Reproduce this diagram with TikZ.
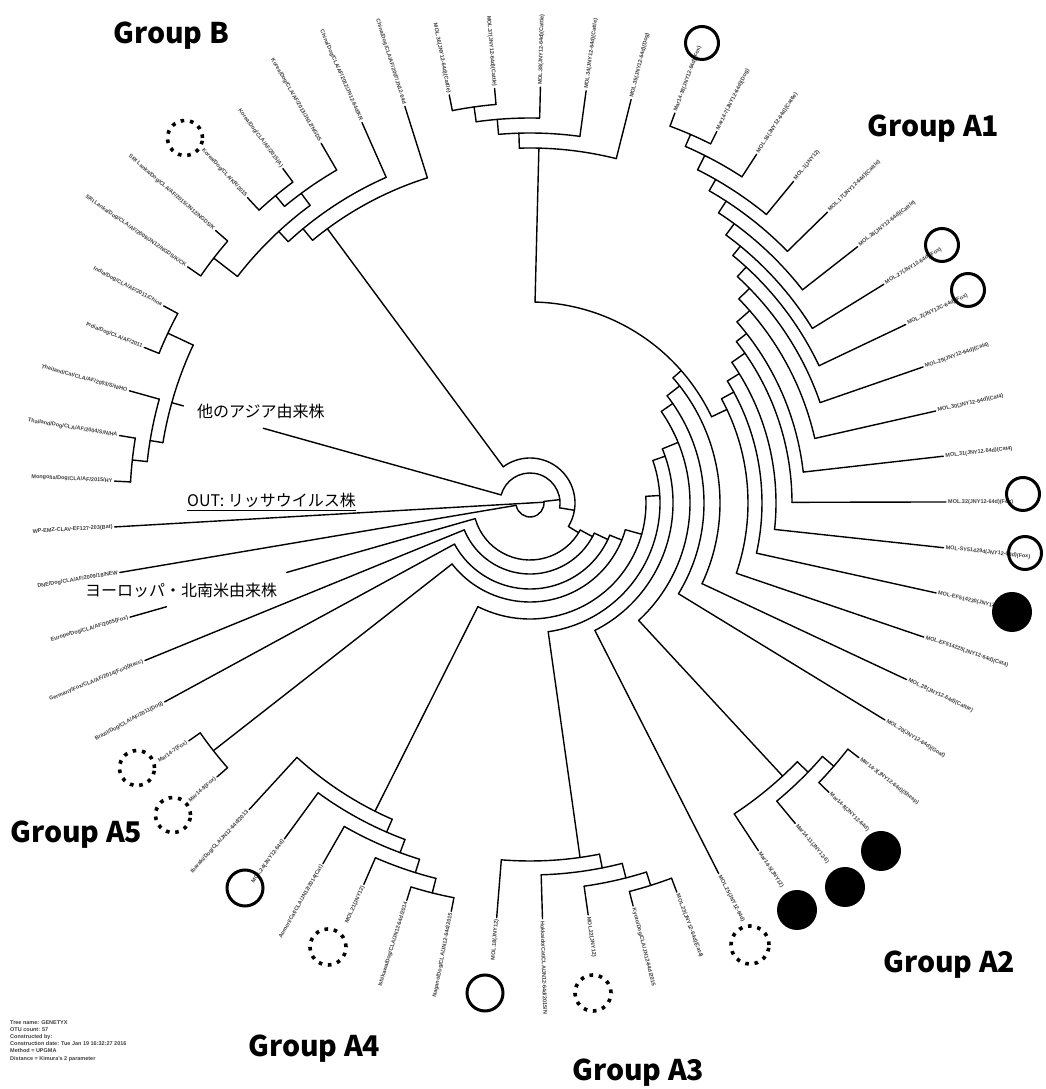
\documentclass[tikz,border=0pt]{standalone}
\usepackage{fontspec}
\setmainfont{Liberation Sans}
\newfontfamily\jpf{Noto Sans CJK JP}
\newcommand\tRad[3]{\pgfmathsetmacro\tAng{183.3+6.315789*(#1)}\draw[br] (\tAng:#2) -- (\tAng:#3);}
\newcommand\tArc[3]{\pgfmathsetmacro\tAa{183.3+6.315789*(#2)}\pgfmathsetmacro\tAb{183.3+6.315789*(#3)}\draw[br] (\tAa:#1) arc[start angle=\tAa, end angle=\tAb, radius=#1pt];}
\newcommand\tLabR[2]{\pgfmathsetmacro\tAng{183.3+6.315789*(#1)}\node[lab,anchor=west,rotate=\tAng] (lb#1) at (\tAng:418) {#2};}
\newcommand\tLabL[2]{\pgfmathsetmacro\tAng{183.3+6.315789*(#1)}\pgfmathsetmacro\tAngB{\tAng-180}\node[lab,anchor=east,rotate=\tAngB] (lb#1) at (\tAng:418) {#2};}
\begin{document}
\begin{tikzpicture}[x=1pt,y=1pt,
  br/.style={line width=1.4pt, line cap=round, line join=round},
  lab/.style={font=\bfseries\fontsize{5.5}{6}\selectfont, text=black!75, inner sep=0pt},
  grp/.style={font=\jpf\bfseries\fontsize{28.5}{30}\selectfont, inner sep=0pt, anchor=base west},
  jp/.style={font=\jpf\fontsize{16}{18}\selectfont, inner sep=0pt, anchor=base west},
  ringc/.style={circle, draw, line width=3pt, minimum size=#1, inner sep=0pt},
  dotc/.style={circle, draw, line width=3.6pt, dash pattern=on 3.6pt off 5.8pt, minimum size=#1, inner sep=0pt},
  fillc/.style={circle, fill=black, minimum size=#1, inner sep=0pt}]
\useasboundingbox (0,0) rectangle (1046,1089);
\fill[white] (0,0) rectangle (1046,1089);

\begin{scope}[shift={(530,586)}]
% root and ingroup
\tRad{0}{0}{416}
\tRad{28.5}{0}{14}
\tArc{14}{1}{29}
\tRad{1}{14}{416}
\tRad{29}{14}{30}
\tArc{30}{26.5}{54}
\tRad{26.5}{30}{45}
\tRad{54}{30}{277}
\tRad{54}{360}{372}
\tArc{45}{23}{48}
\tRad{23}{45}{57}
\tRad{48}{45}{341}
% basal ladder
\tArc{57}{2}{23.5}
\tRad{2}{57}{253}
\tRad{2}{378}{416}
\tRad{23.5}{57}{71}
\tArc{71}{3}{24}
\tRad{3}{71}{416}
\tRad{24}{71}{86}
\tArc{86}{4}{24.5}
\tRad{4}{86}{416}
\tRad{24.5}{86}{99}
\tArc{99}{5.5}{25.5}
\tRad{5.5}{99}{402}
\tRad{25.5}{99}{116}
\tArc{116}{9.5}{28.5}
\tRad{9.5}{116}{345}
\tRad{28.5}{116}{130}
\tArc{130}{15}{31}
\tRad{15}{130}{358}
\tRad{31}{130}{143}
\tArc{143}{18}{31.5}
\tRad{18}{143}{416}
\tRad{31.5}{143}{160}
\tArc{160}{20.5}{33.5}
\tRad{20.5}{160}{372}
\tRad{33.5}{160}{174}
\tArc{174}{23}{34}
\tRad{23}{174}{416}
\tRad{34}{174}{190}
\tArc{190}{24}{34.5}
\tRad{24}{190}{416}
\tRad{34.5}{190}{201}
\tArc{201}{32}{42}
\tRad{32}{201}{218}
\tRad{42}{201}{355}
% A1 ladder
\tArc{218}{25}{32.5}
\tRad{25}{218}{416}
\tRad{32.5}{218}{232}
\tArc{232}{26}{33}
\tRad{26}{232}{416}
\tRad{33}{232}{246}
\tArc{246}{27}{33.5}
\tRad{27}{246}{416}
\tRad{33.5}{246}{262}
\tArc{262}{28}{34}
\tRad{28}{262}{416}
\tRad{34}{262}{275}
\tArc{275}{29}{34.5}
\tRad{29}{275}{416}
\tRad{34.5}{275}{292}
\tArc{292}{30}{35}
\tRad{30}{292}{416}
\tRad{35}{292}{307}
\tArc{307}{31}{35.5}
\tRad{31}{307}{416}
\tRad{35.5}{307}{320}
\tArc{320}{32}{36}
\tRad{32}{320}{416}
\tRad{36}{320}{332}
\tArc{332}{33}{36.5}
\tRad{33}{332}{416}
\tRad{36.5}{332}{346}
\tArc{346}{34}{37}
\tRad{34}{346}{416}
\tRad{37}{346}{360}
\tArc{360}{35}{37.5}
\tRad{35}{360}{416}
\tRad{37.5}{360}{373}
\tArc{373}{36}{38}
\tRad{36}{373}{416}
\tRad{38}{373}{389}
\tArc{389}{37}{38.5}
\tRad{37}{389}{416}
\tRad{38.5}{389}{402}
\tArc{402}{38}{39}
\tRad{38}{402}{416}
\tRad{39}{402}{416}
% top cluster
\tArc{355}{40}{42.5}
\tRad{40}{355}{416}
\tRad{42.5}{355}{370}
\tArc{370}{41}{43}
\tRad{41}{370}{416}
\tRad{43}{370}{385}
\tArc{385}{42}{43.5}
\tRad{42}{385}{416}
\tRad{43.5}{385}{400}
\tArc{400}{43}{44}
\tRad{43}{400}{416}
\tRad{44}{400}{416}
% group B
\tArc{341}{45}{48.5}
\tRad{45}{341}{416}
\tRad{48.5}{341}{356}
\tArc{356}{46}{49}
\tRad{46}{356}{416}
\tRad{49}{356}{370}
\tArc{370}{48}{50.5}
\tRad{48}{370}{385}
\tRad{50.5}{370}{400}
\tArc{385}{47}{48.5}
\tRad{47}{385}{416}
\tRad{48.5}{385}{399}
\tArc{399}{48}{49}
\tRad{48}{399}{416}
\tRad{49}{399}{416}
\tArc{400}{50}{51}
\tRad{50}{400}{416}
\tRad{51}{400}{416}
% other Asia
\tArc{372}{52.5}{55}
\tRad{52.5}{372}{400}
\tArc{400}{52}{53}
\tRad{52}{400}{416}
\tRad{53}{400}{416}
\tRad{55}{372}{385}
\tArc{385}{54}{55.5}
\tRad{54}{385}{416}
\tRad{55.5}{385}{400}
\tArc{400}{55}{56}
\tRad{55}{400}{416}
\tRad{56}{400}{416}
% A5
\tArc{402}{5}{6}
\tRad{5}{402}{416}
\tRad{6}{402}{416}
% A4
\tArc{345}{7}{10}
\tRad{7}{345}{416}
\tRad{10}{345}{359}
\tArc{359}{8}{10.5}
\tRad{8}{359}{416}
\tRad{10.5}{359}{373}
\tArc{373}{9}{11}
\tRad{9}{373}{416}
\tRad{11}{373}{387}
\tArc{387}{10}{11.5}
\tRad{10}{387}{416}
\tRad{11.5}{387}{402}
\tArc{402}{11}{12}
\tRad{11}{402}{416}
\tRad{12}{402}{416}
% A3
\tArc{358}{13}{15.5}
\tRad{13}{358}{416}
\tRad{15.5}{358}{372}
\tArc{372}{14}{16}
\tRad{14}{372}{416}
\tRad{16}{372}{387}
\tArc{387}{15}{16.5}
\tRad{15}{387}{416}
\tRad{16.5}{387}{401}
\tArc{401}{16}{17}
\tRad{16}{401}{416}
\tRad{17}{401}{416}
% A2
\tArc{372}{19}{21}
\tRad{19}{372}{416}
\tRad{21}{372}{387}
\tArc{387}{20}{21.5}
\tRad{20}{387}{416}
\tRad{21.5}{387}{402}
\tArc{402}{21}{22}
\tRad{21}{402}{416}
\tRad{22}{402}{416}

% leaf labels
\tLabL{0}{WP-EMZ-CLAV-EF127-203(Bat)}
\tLabL{1}{DNE/Dog/CLA/AF/2009/18/NEW}
\tLabL{2}{Europe/Dog/CLA/AF/2005(Fox)}
\tLabL{3}{Germany/Fox/CLA/AF/2014(Fox)(Racc)}
\tLabL{4}{Brazil/Dog/CLA/AF/2011(Dog)}
\tLabL{5}{Mar14-7(Fox)}
\tLabL{6}{Mar14-9(Fox)}
\tLabL{7}{Ibaraki/Dog/CLA/JN12-64d/2013}
\tLabL{8}{MOL.24(JNY12-64d)}
\tLabL{9}{Aomori/Cat/CLA/JN12/2014(Cat)}
\tLabL{10}{MOL.21(JNY12)}
\tLabL{11}{Ishikawa/Dog/CLA/JN12-64d/2014}
\tLabL{12}{Nagano/Dog/CLA/JN12-64d/2015}
\tLabL{13}{MOL.18(JNY12)}
\tLabR{14}{Hokkaido/Cat/CLA/JN12-64d/2015/N}
\tLabR{15}{MOL.22(JNY12)}
\tLabR{16}{Kyoto/Dog/CLA/JN12-64d/2015}
\tLabR{17}{MOL.23(JNY12-64d)(Cat4)}
\tLabR{18}{MOL.25(JNY12-64d)}
\tLabR{19}{Mar14-5(JNY12)}
\tLabR{20}{Mar14-11(JNY12-6)}
\tLabR{21}{Mar14-8(JNY12-64d)}
\tLabR{22}{Mar14-3(JNY12-64d)(Sheep)}
\tLabR{23}{MOL.20(JNY12-64d)(Goat)}
\tLabR{24}{MOL.28(JNY12-64d)(Cattle)}
\tLabR{25}{MOL-EF514225(JNY12-64d)(Cat4)}
\tLabR{26}{MOL-EF514230(JNY12-64d)(Cat)}
\tLabR{27}{MOL-SY514294(JNY12-64d)(Fox)}
\tLabR{28}{MOL.32(JNY12-64d)(Fox)}
\tLabR{29}{MOL.31(JNY12-64d)(Cat4)}
\tLabR{30}{MOL.30(JNY12-64d)(Cat4)}
\tLabR{31}{MOL.29(JNY12-64d)(Cat4)}
\tLabR{32}{MOL.2(JNY12C-64d)(Fox)}
\tLabR{33}{MOL.27(JNY12-64d)(Fox)}
\tLabR{34}{MOL.26(JNY12-64d)(Cattle)}
\tLabR{35}{MOL.17(JNY12-64d)(Cattle)}
\tLabR{36}{MOL.1(JNY12)}
\tLabR{37}{MOL.16(JNY12-64d)(Cattle)}
\tLabR{38}{Mar14-7(JNY12-64d)(Dog)}
\tLabR{39}{Mar14-18(JNY12-64d)(Fox)}
\tLabR{40}{MOL.35(JNY12-64d)(Dog)}
\tLabR{41}{MOL.34(JNY12-64d)(Cattle)}
\tLabR{42}{MOL.38(JNY12-64d)(Cattle)}
\tLabL{43}{MOL.37(JNY12-64d)(Cattle)}
\tLabL{44}{MOL.36(JNY12-64d)(Cattle)}
\tLabL{45}{China/Dog/CLA/AF/2007/JN12-64d}
\tLabL{46}{China/Dog/CLA/AF/2012/JN12-64d/KR}
\tLabL{47}{Korea/Dog/CLA/AF/2013/JN12/NGDS}
\tLabL{48}{Korea/Dog/CLA/AF/2015(A)}
\tLabL{49}{Korea/Dog/CLA/KR/2015}
\tLabL{50}{SRI Lanka/Dog/CLA/AF/2015/JN12/NGDS/K}
\tLabL{51}{SRI Lanka/Dog/CLA/AF/2009/JN12/NGDS/K/CK}
\tLabL{52}{India/Dog/CLA/AF/2011/China}
\tLabL{53}{India/Dog/CLA/AF/2011}
\tLabL{54}{Thailand/Cat/CLA/AF/2003/S/N/HO}
\tLabL{55}{Thailand/Dog/CLA/AF/2004/S/N/HA}
\tLabL{56}{Mongolia/Dog/CLA/AF/2015/HY}
\end{scope}

% markers
\node[ringc=33pt] (o1) at (702,1046) {};
\node[ringc=33pt] (o2) at (942,844) {};
\node[ringc=33pt] (o3) at (968,799) {};
\node[ringc=33pt] (o4) at (1023,595) {};
\node[ringc=33pt] (o5) at (1025,536) {};
\node[ringc=36pt] (o6) at (245,201) {};
\node[ringc=36pt] (o7) at (485,96) {};
\node[dotc=35pt] (d1) at (185,951) {};
\node[dotc=35pt] (d2) at (137,321) {};
\node[dotc=35pt] (d3) at (173,274) {};
\node[dotc=36pt] (d4) at (328,142) {};
\node[dotc=36pt] (d5) at (593,96) {};
\node[dotc=38pt] (d6) at (750,144) {};
\node[fillc=40pt] (f1) at (1012,477) {};
\node[fillc=40pt] (f2) at (797,179) {};
\node[fillc=40pt] (f3) at (845,202) {};
\node[fillc=40pt] (f4) at (881,238) {};

% group labels
\node[grp] (gB) at (113,1045.7) {Group B};
\node[grp] (gA1) at (867,952.3) {Group A1};
\node[grp] (gA2) at (883,116) {Group A2};
\node[grp] (gA3) at (572,9) {Group A3};
\node[grp] (gA4) at (248,32) {Group A4};
\node[grp] (gA5) at (10,246) {Group A5};

% japanese labels
\node[jp] (jpAsia) at (197,671) {他のアジア由来株};
\node[jp] (jpOut) at (187,582) {OUT: リッサウイルス株};
\draw[line width=1pt] ([yshift=-3.5pt]jpOut.base west) -- ([yshift=-3.5pt]jpOut.base east);
\node[jp] (jpEu) at (85,492) {ヨーロッパ・北南米由来株};

% info block
\node[font=\bfseries\fontsize{5.5}{7.2}\selectfont, text=black!75, anchor=north west, align=left, inner sep=0pt] (info) at (10,69) {Tree name: GENETYX\\OTU count: 57\\Constructed by:\\Construction date: Tue Jan 19 16:32:27 2016\\Method = UPGMA\\Distance = Kimura's 2 parameter};
\end{tikzpicture}
\end{document}
